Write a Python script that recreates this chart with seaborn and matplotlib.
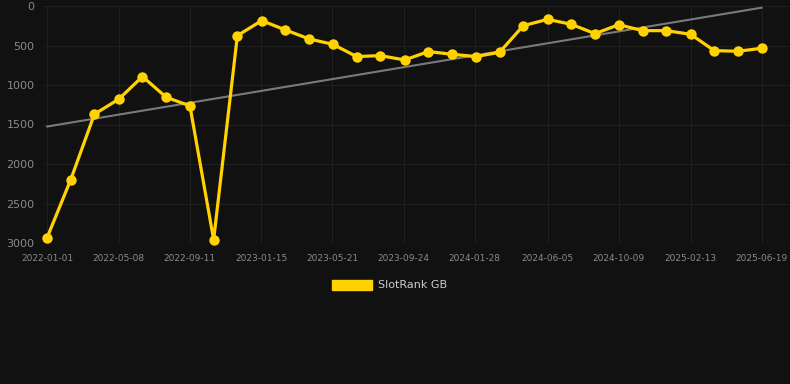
"""
SlotRank GB over time
Rank history with a linear trend, dark theme.
"""

import numpy as np
import pandas as pd
import matplotlib
matplotlib.use('Agg')
import matplotlib.pyplot as plt
import matplotlib.dates as mdates
from matplotlib.patches import Patch
import seaborn as sns

# Data
dates = [
    '2022-01-01', '2022-02-12', '2022-03-26', '2022-05-08', '2022-06-19',
    '2022-07-31', '2022-09-11', '2022-10-23', '2022-12-04', '2023-01-16',
    '2023-02-27', '2023-04-10', '2023-05-22', '2023-07-03', '2023-08-14',
    '2023-09-26', '2023-11-07', '2023-12-19', '2024-01-30', '2024-03-12',
    '2024-04-23', '2024-06-05', '2024-07-17', '2024-08-28', '2024-10-09',
    '2024-11-20', '2025-01-01', '2025-02-13', '2025-03-27', '2025-05-08',
    '2025-06-19',
]
ranks = [
    2937, 2200, 1369, 1180, 893, 1155, 1264, 2958, 375, 185,
    303, 417, 485, 640, 628, 683, 577, 611, 640, 586,
    249, 169, 232, 350, 236, 312, 312, 358, 565, 573,
    535,
]
tick_labels = [
    '2022-01-01', '2022-05-08', '2022-09-11', '2023-01-15', '2023-05-21',
    '2023-09-24', '2024-01-28', '2024-06-05', '2024-10-09', '2025-02-13',
    '2025-06-19',
]
y_ticks = [0, 500, 1000, 1500, 2000, 2500, 3000]
series_name = 'SlotRank GB'

BG = '#111111'
GOLD = '#FFD200'
GRID = '#1f1f1f'
TEXT = '#8a8a8a'

df = pd.DataFrame({'date': pd.to_datetime(dates), 'rank': ranks})

# linear trend through the ranks
day_num = mdates.date2num(df['date'])
slope, intercept = np.polyfit(day_num, df['rank'], 1)
trend = pd.DataFrame({'date': df['date'].iloc[[0, -1]]})
trend['rank'] = slope * mdates.date2num(trend['date']) + intercept

sns.set_style('dark')
plt.rcParams['font.family'] = ['DejaVu Sans']

fig = plt.figure(figsize=(7.9, 3.84), dpi=100, facecolor=BG)
ax = fig.add_axes([43 / 790, 1 - 243 / 384, 1 - 43 / 790, (243 - 6) / 384])
ax.set_facecolor(BG)

sns.lineplot(data=trend, x='date', y='rank', ax=ax, color='#7a7a7a',
             linewidth=1.5, legend=False)
sns.lineplot(data=df, x='date', y='rank', ax=ax, color=GOLD, linewidth=2.3,
             marker='o', markersize=7.5, markeredgewidth=0, legend=False,
             clip_on=False)

ax.set_ylim(3000, 0)
ax.set_xlim(pd.Timestamp('2021-12-25'), pd.Timestamp('2025-08-08'))
ax.set_yticks(y_ticks)
ax.set_yticklabels([str(v) for v in y_ticks])
ax.set_xticks(pd.to_datetime(tick_labels))
ax.set_xticklabels(tick_labels)
ax.tick_params(axis='y', colors=TEXT, labelsize=8, length=0, pad=6)
ax.tick_params(axis='x', colors=TEXT, labelsize=6.5, length=0, pad=8)
ax.set_xlabel('')
ax.set_ylabel('')
ax.grid(True, color=GRID, linewidth=0.8)
ax.axhline(3000, color='#2a2a2a', linewidth=0.8, zorder=0)
for side in ax.spines.values():
    side.set_visible(False)

handle = Patch(facecolor=GOLD, edgecolor=GOLD, label=series_name)
fig.legend(handles=[handle], loc='center', bbox_to_anchor=(0.493, 1 - 285 / 384),
           frameon=False, fontsize=8, labelcolor='#cccccc',
           handlelength=3.6, handleheight=1.0, handletextpad=0.6)

fig.savefig('out.png', dpi=100, facecolor=BG)
